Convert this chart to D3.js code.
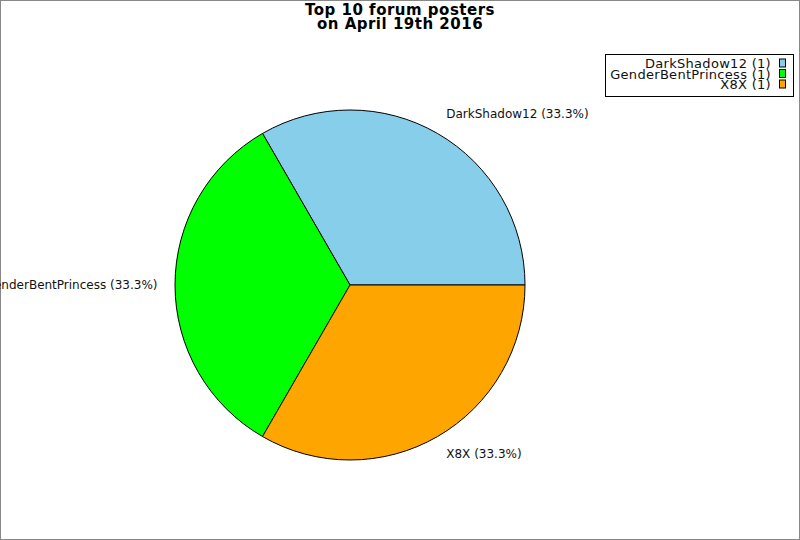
<!DOCTYPE html>
<html>
<head>
<meta charset="utf-8">
<script src="https://cdn.jsdelivr.net/npm/d3@7"></script>
<style>
  body { margin: 0; background: #fff; }
  text { font-family: "DejaVu Sans", sans-serif; }
</style>
</head>
<body>
<div id="chart"></div>
<script>
// chart data
const posters = ["DarkShadow12", "GenderBentPrincess", "X8X"];
const postCounts = [1, 1, 1];
const sliceColors = ["#87CEEB", "#00FF00", "#FFA500"];
const titleLines = ["Top 10 forum posters", "on April 19th 2016"];

const width = 800, height = 540;
const cx = 350, cy = 285, radius = 175;

const svg = d3.select("#chart").append("svg")
    .attr("width", width)
    .attr("height", height);

// frame
svg.append("rect")
    .attr("x", 0.5).attr("y", 0.5)
    .attr("width", width - 1).attr("height", height - 1)
    .attr("fill", "#fff")
    .attr("stroke", "#888");

// title
svg.append("g").selectAll("text")
    .data(titleLines)
    .join("text")
    .attr("x", 400)
    .attr("y", (d, i) => 15 + i * 14)
    .attr("text-anchor", "middle")
    .style("font-size", "15px")
    .style("font-weight", "bold")
    .style("letter-spacing", "0.5px")
    .text(d => d);

const total = d3.sum(postCounts);
const data = posters.map((p, i) => ({ name: p, value: postCounts[i], color: sliceColors[i] }));

// slices start at 3 o'clock, go counter-clockwise
const pie = d3.pie()
    .value(d => d.value)
    .sort(null)
    .startAngle(Math.PI / 2)
    .endAngle(Math.PI / 2 - 2 * Math.PI);

const arc = d3.arc().innerRadius(0).outerRadius(radius);

const g = svg.append("g")
    .attr("transform", "translate(" + cx + "," + cy + ")");

const arcs = pie(data);

g.selectAll("path")
    .data(arcs)
    .join("path")
    .attr("d", arc)
    .attr("fill", d => d.data.color)
    .attr("stroke", "#000")
    .attr("stroke-width", 1);

// labels outside the slices
const fmt = d3.format(".1f");
g.selectAll(".slice-label")
    .data(arcs)
    .join("text")
    .attr("class", "slice-label")
    .each(function(d) {
        const a = (d.startAngle + d.endAngle) / 2;   // d3 angle, 0 = 12 o'clock
        const x = Math.sin(a) * radius * 1.1;
        const y = -Math.cos(a) * radius * 1.1;
        const off = y < -1 ? -4.5 : (y > 1 ? 2.5 : 0);
        d3.select(this)
            .attr("x", x)
            .attr("y", y + off)
            .attr("dy", "0.35em")
            .attr("text-anchor", x < -1 ? "end" : "start");
    })
    .style("font-size", "12px")
    .style("fill", "#111")
    .text(d => d.data.name + " (" + fmt(d.data.value / total * 100) + "%)");

// legend
const legend = svg.append("g");
legend.append("rect")
    .attr("x", 605.5).attr("y", 54.5)
    .attr("width", 188).attr("height", 42)
    .attr("fill", "#fff")
    .attr("stroke", "#000");

const items = legend.selectAll(".item")
    .data(data)
    .join("g")
    .attr("class", "item")
    .attr("transform", (d, i) => "translate(0," + (63.5 + i * 10.5) + ")");

items.append("text")
    .attr("x", 771)
    .attr("dy", "0.35em")
    .attr("text-anchor", "end")
    .style("font-size", "13px")
    .style("letter-spacing", "0.3px")
    .style("fill", "#111")
    .text(d => d.name + " (" + d.value + ")");

items.append("rect")
    .attr("x", 779.5).attr("y", -4.5)
    .attr("width", 6).attr("height", 8)
    .attr("fill", d => d.color)
    .attr("stroke", "#000");
</script>
</body>
</html>
